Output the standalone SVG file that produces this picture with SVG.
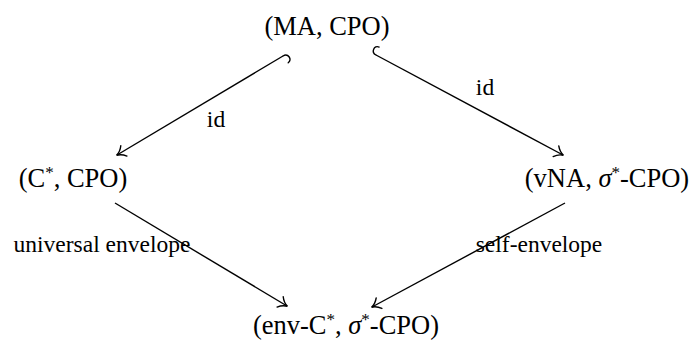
<svg xmlns="http://www.w3.org/2000/svg" width="699" height="345" viewBox="0 0 699 345">
<style>
text{font-family:"Liberation Serif","Times New Roman",serif;fill:#000;text-anchor:middle}
.n{font-size:26.5px}
.l{font-size:23.5px}
.e{fill:none;stroke:#000;stroke-width:1.4}
.sup{font-size:17px}
.it{font-style:italic}
</style>
<defs>
<marker id="to" markerUnits="userSpaceOnUse" viewBox="-12 -8 14 16" refX="0" refY="0" markerWidth="14" markerHeight="16" orient="auto" overflow="visible">
<path d="M-8,-6 C-5,-2 -1.5,-0.5 0.5,0 C-1.5,0.5 -5,2 -8,6" fill="none" stroke="#000" stroke-width="1.4" stroke-linecap="round"/>
</marker>
<marker id="hook" markerUnits="userSpaceOnUse" viewBox="-10 -10 20 20" refX="0" refY="0" markerWidth="20" markerHeight="20" orient="auto" overflow="visible">
<path d="M0,0 C-6,0 -6.5,-8 -1,-8.5" fill="none" stroke="#000" stroke-width="1.4" stroke-linecap="round"/>
</marker>
</defs>
<g id="connectors">
<path class="e" d="M283,56 L117,155" marker-start="url(#hook)" marker-end="url(#to)"/>
<path class="e" d="M376,55 L563,155" marker-start="url(#hook)" marker-end="url(#to)"/>
<path class="e" d="M115,203 L287,306" marker-end="url(#to)"/>
<path class="e" d="M565,203 L372,307" marker-end="url(#to)"/>
<text class="l" x="216" y="127" font-family="Liberation Serif, serif">id</text>
<text class="l" x="485" y="95" font-family="Liberation Serif, serif">id</text>
<text class="l" x="102" y="252" font-family="Liberation Serif, serif">universal envelope</text>
<text class="l" x="539" y="252" font-family="Liberation Serif, serif">self-envelope</text>
</g>
<g id="node-ma"><text class="n" x="327" y="35">(MA, CPO)</text></g>
<g id="node-cstar"><text class="n" x="73" y="187">(C<tspan class="sup" dy="-9">*</tspan><tspan dy="9">, CPO)</tspan></text></g>
<g id="node-vna"><text class="n" x="607" y="187">(vNA, <tspan class="it">σ</tspan><tspan class="sup" dy="-9">*</tspan><tspan dy="9">-CPO)</tspan></text></g>
<g id="node-env"><text class="n" x="346" y="334">(env-C<tspan class="sup" dy="-9">*</tspan><tspan dy="9">, </tspan><tspan class="it">σ</tspan><tspan class="sup" dy="-9">*</tspan><tspan dy="9">-CPO)</tspan></text></g>
</svg>
